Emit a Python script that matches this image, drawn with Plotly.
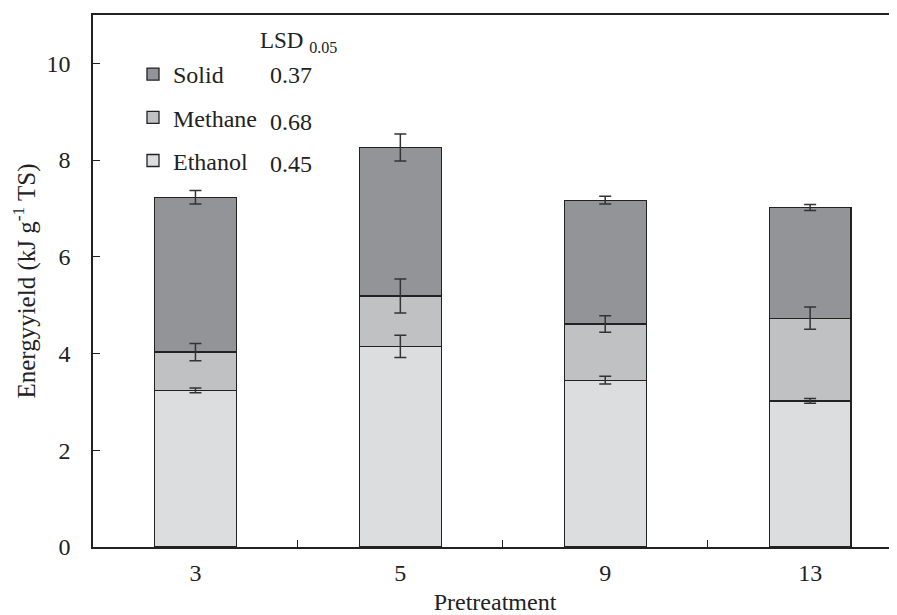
import plotly.graph_objects as go

categories = ["3", "5", "9", "13"]
ethanol = [3.24, 4.15, 3.45, 3.02]
methane = [0.79, 1.04, 1.16, 1.71]
solid = [3.20, 3.07, 2.56, 2.29]
ethanol_err = [0.05, 0.23, 0.08, 0.05]
methane_err = [0.18, 0.35, 0.17, 0.23]
solid_err = [0.14, 0.28, 0.08, 0.06]
lsd_labels = ["Solid", "Methane", "Ethanol"]
lsd_values = ["0.37", "0.68", "0.45"]

FONT = "Liberation Serif"
INK = "#222222"
colors = {"Ethanol": "#dcdddf", "Methane": "#c0c1c3", "Solid": "#939497"}
ranks = {"Solid": 1, "Methane": 2, "Ethanol": 3}

series = [("Ethanol", ethanol, ethanol_err),
          ("Methane", methane, methane_err),
          ("Solid", solid, solid_err)]

fig = go.Figure()
for name, vals, errs in series:
    fig.add_trace(go.Bar(
        x=categories, y=vals, name=name, legendgroup=name, legendrank=ranks[name],
        width=0.4,
        marker=dict(color=colors[name], line=dict(color=INK, width=1.3)),
    ))

# error bars drawn at the top of each stacked segment
base = [0.0] * len(categories)
for name, vals, errs in series:
    tops = [b + v for b, v in zip(base, vals)]
    fig.add_trace(go.Scatter(
        x=categories, y=tops, mode="markers", showlegend=False, hoverinfo="skip",
        marker=dict(size=1, color="rgba(0,0,0,0)"),
        error_y=dict(type="data", array=errs, visible=True,
                     color="#333333", thickness=1.5, width=6),
    ))
    base = tops

fig.update_layout(
    width=889, height=607,
    barmode="stack",
    paper_bgcolor="white", plot_bgcolor="white",
    margin=dict(l=85, r=0, t=7, b=68),
    font=dict(family=FONT, size=24, color=INK),
    showlegend=True,
    legend=dict(x=(133 - 93) / 804, y=(547 - 52) / 532, xanchor="left", yanchor="top",
                traceorder="grouped", tracegroupgap=9,
                font=dict(family=FONT, size=24, color=INK),
                bgcolor="rgba(0,0,0,0)", itemwidth=30),
    xaxis=dict(
        type="category", range=[-0.5, 3.424],
        tickson="boundaries", ticks="inside", ticklen=7, tickcolor=INK,
        showline=True, linecolor=INK, linewidth=1.5, mirror=True,
        showgrid=False, ticklabelstandoff=3,
        title=dict(text="Pretreatment", font=dict(family=FONT, size=24), standoff=12),
        tickfont=dict(family=FONT, size=24),
    ),
    yaxis=dict(
        range=[0, 11], tickvals=[0, 2, 4, 6, 8, 10],
        ticks="inside", ticklen=7, tickcolor=INK,
        showline=True, linecolor=INK, linewidth=1.5,
        showgrid=False, zeroline=False, ticklabelstandoff=16,
        title=dict(text="Energyyield (kJ g<sup>-1</sup> TS)", font=dict(family=FONT, size=25), standoff=19),
        tickfont=dict(family=FONT, size=24),
    ),
)

fig.add_annotation(xref="paper", yref="paper", x=(258 - 93) / 804, y=(547 - 42) / 532,
                   xanchor="left", yanchor="middle", showarrow=False,
                   text="LSD <sub>0.05</sub>", font=dict(family=FONT, size=23, color=INK))
for lab, val, py in zip(lsd_labels, lsd_values, [75, 122, 164]):
    fig.add_annotation(xref="paper", yref="paper", x=(268 - 93) / 804, y=(547 - py) / 532,
                       xanchor="left", yanchor="middle", showarrow=False,
                       text=val, font=dict(family=FONT, size=24, color=INK))

fig.write_html("out.html")
